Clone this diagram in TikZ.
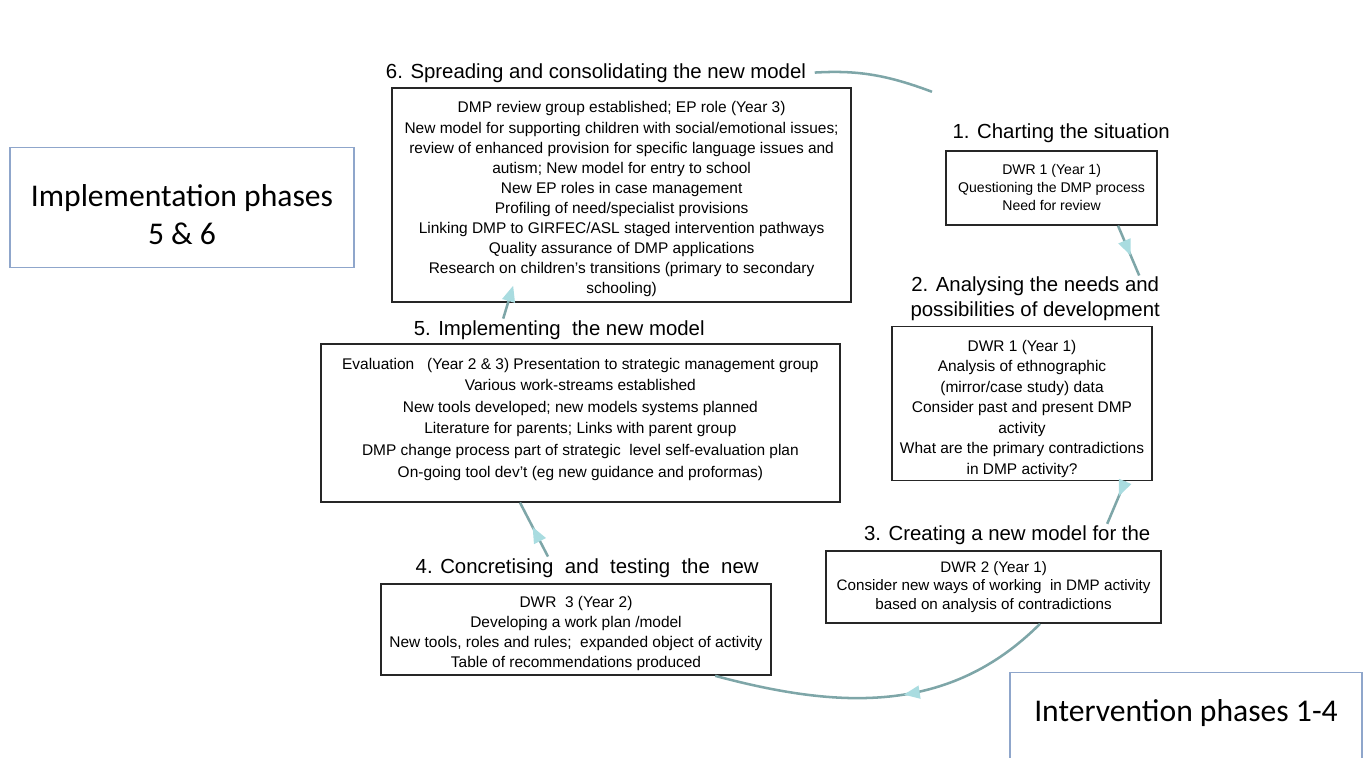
\documentclass[tikz,border=0pt]{standalone}
\usepackage{fontspec}
\setmainfont{Liberation Sans}
\newfontfamily\phasefont{Carlito}
\usetikzlibrary{arrows.meta, positioning, decorations.markings}
\definecolor{cycleteal}{HTML}{7EA6A8}
\definecolor{tipcyan}{HTML}{A9DCE0}
\definecolor{phaseblue}{HTML}{8FA6CB}

\begin{document}
\begin{tikzpicture}[
    stage/.style={rectangle, draw=black!85, line width=1.2pt, fill=white,
                 font=\fontsize{11}{14.5}\selectfont, align=center, inner sep=2pt},
    heading/.style={font=\fontsize{14.5}{17.5}\selectfont, align=center, inner sep=1pt},
    phase/.style={rectangle, draw=phaseblue, line width=0.9pt,
                 font=\phasefont\fontsize{22.5}{27}\selectfont, align=center},
    flow/.style={draw=cycleteal, line width=1.8pt},
    midtip/.style={postaction={decorate}, decoration={markings,
                 mark=at position #1 with {\arrow{Triangle[length=4mm, width=3.2mm, color=tipcyan]}}}}
]
\useasboundingbox (0,0) rectangle (34.25,18.925);

% Phase labels
\node[phase, minimum width=8.6cm, minimum height=3cm] at (4.55,13.73) (impl) {\rule{0pt}{0.9cm}Implementation phases\\5 \& 6};
\node[phase, minimum width=8.8cm, text height=0.5cm, text depth=0.6cm, inner ysep=0.72cm] at (29.65,0.85) (interv) {Intervention phases 1-4};

% Stage headings
\node[heading] at (14.9,17.1) (title6) {6. Spreading and consolidating the new model};
\node[heading] at (26.53,15.6) (title1) {1. Charting the situation};
\node[heading] at (25.88,11.45) (title2) {2. Analysing the needs and\\possibilities of development};
\node[heading] at (25.18,5.55) (title3) {3. Creating a new model for the};
\node[heading] at (14.68,4.73) (title4) {4. Concretising\ \ and\ \ testing\ \ the\ \ new};
\node[heading] at (13.98,10.68) (title5) {5. Implementing\ \ the new model};

% Stage boxes
\node[stage, minimum width=11.48cm, minimum height=5.35cm, font=\fontsize{11}{14.3}\selectfont] at (15.54,14.05) (box6) {\rule{0pt}{0.5cm}DMP review group established; EP role (Year 3)\\New model for supporting children with social/emotional issues;\\review of enhanced provision for specific language issues and\\autism; New model for entry to school\\New EP roles in case management\\Profiling of need/specialist provisions\\Linking DMP to GIRFEC/ASL staged intervention pathways\\Quality assurance of DMP applications\\Research on children's transitions (primary to secondary\\schooling)};
\node[stage, minimum width=5.28cm, minimum height=1.85cm, font=\fontsize{10}{12.8}\selectfont] at (26.29,14.23) (box1) {DWR 1 (Year 1)\\Questioning the DMP process\\Need for review};
\node[stage, minimum width=6.5cm, minimum height=3.83cm, font=\fontsize{11}{14.6}\selectfont] at (25.55,8.84) (box2) {\rule{0pt}{0.55cm}DWR 1 (Year 1)\\Analysis of ethnographic\\(mirror/case study) data\\Consider past and present DMP\\activity\\What are the primary contradictions\\in DMP activity?};
\node[stage, minimum width=8.38cm, minimum height=1.8cm, font=\fontsize{10.8}{13.2}\selectfont] at (24.84,4.25) (box3) {DWR 2 (Year 1)\\Consider new ways of working\ \ in DMP activity\\based on analysis of contradictions};
\node[stage, minimum width=9.75cm, minimum height=2.28cm, font=\fontsize{11}{14.2}\selectfont] at (14.4,3.19) (box4) {\rule{0pt}{0.5cm}DWR\ \ 3 (Year 2)\\Developing a work plan /model\\New tools, roles and rules;\ \ expanded object of activity\\Table of recommendations produced};
\node[stage, minimum width=12.98cm, minimum height=3.75cm, font=\fontsize{11}{15.4}\selectfont] at (14.51,8.35) (box5) {\rule{0pt}{0.55cm}Evaluation\ \ \ (Year 2 \& 3) Presentation to strategic management group\\Various work-streams established\\New tools developed; new models systems planned\\Literature for parents; Links with parent group\\DMP change process part of strategic\ \ level self-evaluation plan\\On-going tool dev't (eg new guidance and proformas)\\ {}};

% Cycle
\coordinate (arcend) at (23.3,16.63);
\draw[flow, shorten <=5pt] (title6.east) to[bend left=12] (arcend);
\draw[flow, midtip=0.6] ([xshift=1.66cm]box1.south) -- ([xshift=2.6cm]title2.north);
\draw[flow, midtip=0.35] ([xshift=2.58cm]box2.south) -- ([xshift=2.5cm]title3.north);
\draw[flow, midtip=0.45] ([xshift=1.16cm]box3.south) to[out=-135, in=-15] ([xshift=3.48cm]box4.south);
\draw[flow, midtip=0.55] ([xshift=-0.98cm]title4.north) -- ([xshift=-1.51cm]box5.south);
\draw[flow, -{Triangle[length=4mm, width=3.2mm, color=tipcyan]}] ([xshift=-1.4cm]title5.north) -- ([xshift=-2.71cm, yshift=0.43cm]box6.south);

\end{tikzpicture}
\end{document}
